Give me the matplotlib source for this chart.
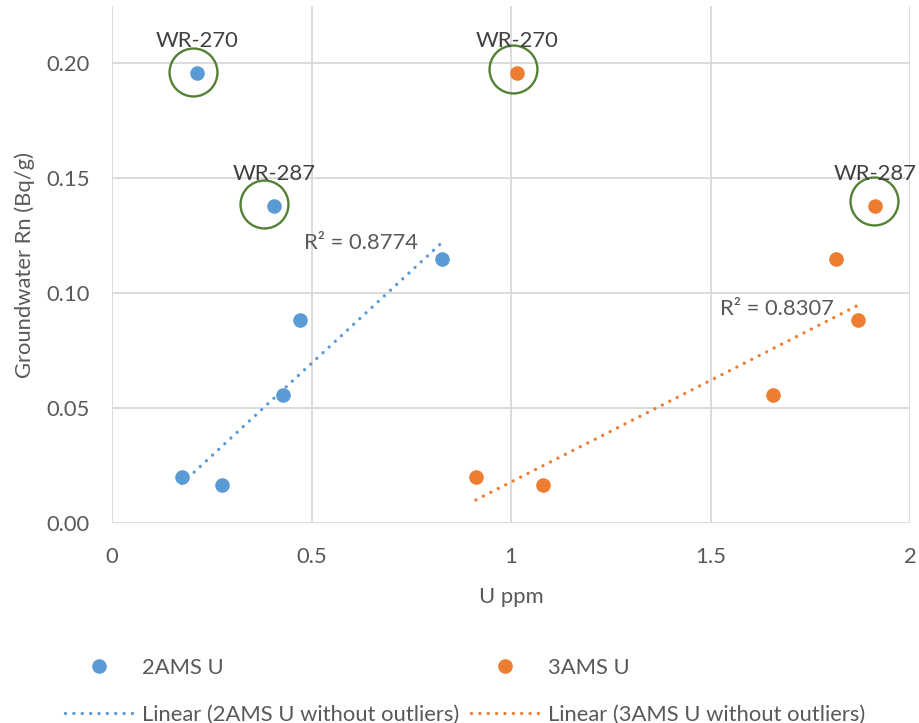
import numpy as np
import matplotlib
matplotlib.use("Agg")
import matplotlib.pyplot as plt
from matplotlib.lines import Line2D
from matplotlib import transforms

plt.rcParams['font.family'] = ['Lato', 'DejaVu Sans']

# ---- data ----
x_2ams = [0.175, 0.276, 0.429, 0.471, 0.827, 0.406, 0.213]
y_2ams = [0.020, 0.0165, 0.0557, 0.0883, 0.1148, 0.1380, 0.1957]
x_3ams = [0.912, 1.080, 1.657, 1.870, 1.815, 1.912, 1.015]
y_3ams = [0.020, 0.0165, 0.0557, 0.0883, 0.1148, 0.1380, 0.1957]
n_fit = 5  # first five points used in the trendlines (outliers excluded)
outlier_idx = [6, 5]
outlier_names = ["WR-270", "WR-287"]
r2_labels = ["R² = 0.8774", "R² = 0.8307"]
x_ticks = [0, 0.5, 1, 1.5, 2]
x_ticklabels = ["0", "0.5", "1", "1.5", "2"]
y_ticks = [0.00, 0.05, 0.10, 0.15, 0.20]
y_ticklabels = ["0.00", "0.05", "0.10", "0.15", "0.20"]

BLUE = "#5b9bd5"
ORANGE = "#ed7d31"
GREEN = "#548235"
TXT = "#595959"
GRID = "#d9d9d9"
FS = 15.8

fig = plt.figure(figsize=(9.19, 7.23), dpi=100)
W, H = 919, 723
ax = fig.add_axes([112 / W, 1 - 523 / H, 798 / W, 517 / H])
ax.set_xlim(0, 2)
ax.set_ylim(0, 0.2248)

for s in ax.spines.values():
    s.set_visible(False)
ax.set_xticks(x_ticks)
ax.set_xticklabels(x_ticklabels)
ax.set_yticks(y_ticks)
ax.set_yticklabels(y_ticklabels)
ax.tick_params(length=0, labelsize=FS, labelcolor=TXT)
ax.tick_params(axis='y', pad=16)
ax.tick_params(axis='x', pad=17)
ax.grid(True, color=GRID, lw=1.3)
ax.set_axisbelow(True)

# scatter points
ax.plot(x_2ams, y_2ams, 'o', color=BLUE, ms=10.5, mew=0, zorder=4)
ax.plot(x_3ams, y_3ams, 'o', color=ORANGE, ms=10.5, mew=0, zorder=4)

# trendlines fitted without outliers
LW = 2.4
dots = (0, (0.01, 2.5))
for xs, ys, col in [(x_2ams, y_2ams, BLUE), (x_3ams, y_3ams, ORANGE)]:
    xf = np.array(xs[:n_fit]); yf = np.array(ys[:n_fit])
    k, b = np.polyfit(xf, yf, 1)
    xl = np.array([xf.min(), xf.max()])
    ax.plot(xl, k * xl + b, color=col, lw=LW, linestyle=dots,
            dash_capstyle='round', zorder=3)

# R^2 labels
ax.text(0.766, 0.1217, r2_labels[0], ha='right', va='center', fontsize=FS, color=TXT)
ax.text(1.809, 0.0930, r2_labels[1], ha='right', va='center', fontsize=FS, color=TXT)

# outlier circles and labels
circle_off = {(0, 6): (-4, 1), (0, 5): (-10, 2), (1, 6): (-4, 4), (1, 5): (-1, 5)}
for si, (xs, ys) in enumerate([(x_2ams, y_2ams), (x_3ams, y_3ams)]):
    for idx, name in zip(outlier_idx, outlier_names):
        dx, dy = circle_off[(si, idx)]
        tr = transforms.offset_copy(ax.transData, fig=fig, x=dx * 0.72, y=dy * 0.72, units='points')
        ax.plot([xs[idx]], [ys[idx]], 'o', ms=34.5, mfc='none', mec=GREEN, mew=1.7,
                transform=tr, zorder=5)
        ax.annotate(name, (xs[idx], ys[idx]), xytext=(0, 23), textcoords='offset points',
                    ha='center', va='center', fontsize=FS, color="#404040", zorder=6)

# axis labels
ax.set_xlabel("U ppm", fontsize=FS, color=TXT, va='center')
ax.xaxis.set_label_coords(0.5, -(597 - 523) / 517)
ax.set_ylabel("Groundwater Rn (Bq/g)", fontsize=FS, color=TXT, va='center')
ax.yaxis.set_label_coords(-(112 - 25) / 798, 0.5)

# legend
h1 = Line2D([], [], marker='o', ls='none', color=BLUE, ms=10.5, mew=0)
h2 = Line2D([], [], color=BLUE, lw=LW, ls=dots, dash_capstyle='round')
h3 = Line2D([], [], marker='o', ls='none', color=ORANGE, ms=10.5, mew=0)
h4 = Line2D([], [], color=ORANGE, lw=LW, ls=dots, dash_capstyle='round')
leg = fig.legend([h1, h2, h3, h4],
                 ["2AMS U", "Linear (2AMS U without outliers)",
                  "3AMS U", "Linear (3AMS U without outliers)"],
                 ncol=2, loc='upper left', bbox_to_anchor=(65 / W, 1 - 658 / H),
                 frameon=False, fontsize=FS, handlelength=3.1, handletextpad=0.41,
                 columnspacing=0.55, labelspacing=1.22, borderpad=0, borderaxespad=0,
                 numpoints=1)
for t in leg.get_texts():
    t.set_color(TXT)

fig.savefig("out.png", dpi=100)
